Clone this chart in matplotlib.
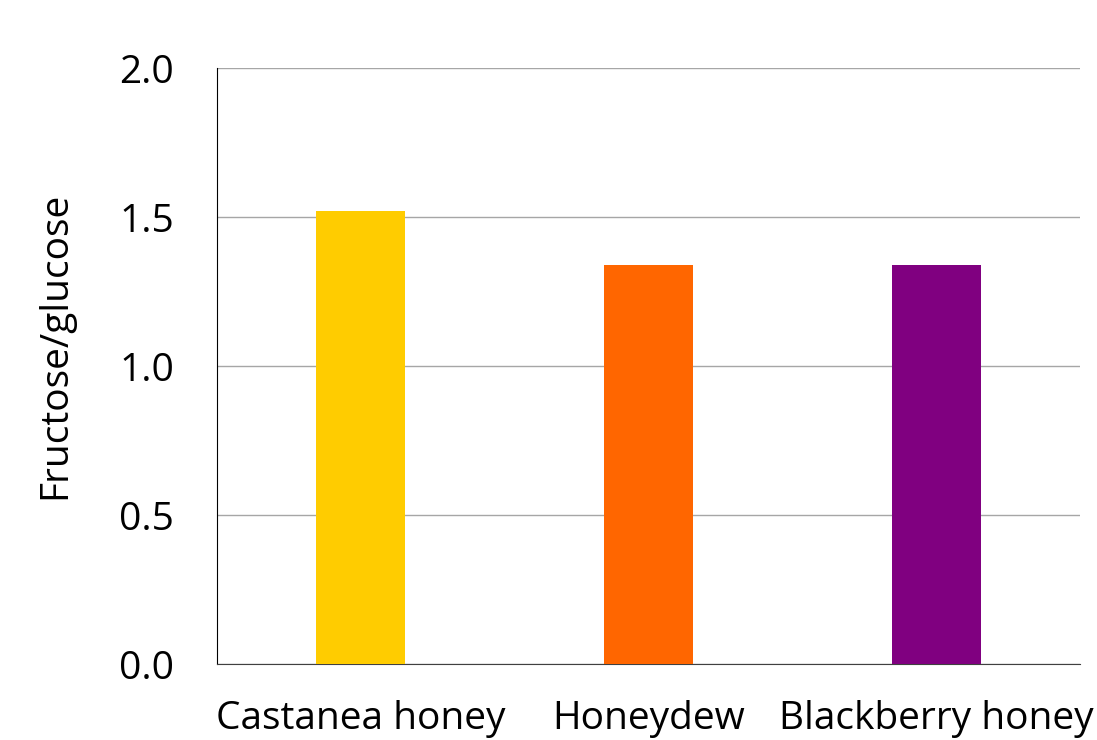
import matplotlib.pyplot as plt

honeys = ['Castanea honey', 'Honeydew', 'Blackberry honey']
ratio = [1.52, 1.34, 1.34]
bar_colors = ['#FFCC00', '#FF6600', '#800080']
yticks = [0.0, 0.5, 1.0, 1.5, 2.0]

plt.rcParams['font.family'] = ['Open Sans', 'DejaVu Sans']

fig = plt.figure(figsize=(10.97, 7.40), dpi=100)
ax = fig.add_axes([0.1978, 0.1027, 0.7867, 0.8054])

x = range(len(honeys))
ax.bar(x, ratio, width=0.31, color=bar_colors, zorder=3)

ax.set_xlim(-0.5, len(honeys) - 0.5)
ax.set_ylim(0, 2.0)
ax.set_yticks(yticks)
ax.set_yticklabels([f'{v:.1f}' for v in yticks], fontsize=28)
ax.set_xticks(list(x))
ax.set_xticklabels(honeys, fontsize=28)
ax.tick_params(axis='both', length=0)
ax.tick_params(axis='y', pad=31)
ax.tick_params(axis='x', pad=26)

ax.yaxis.grid(True, color='#A6A6A6', linewidth=1, zorder=0)
ax.set_axisbelow(True)
for s in ['top', 'right']:
    ax.spines[s].set_visible(False)
ax.spines['left'].set_color('black')
ax.spines['bottom'].set_color('#404040')

ax.set_ylabel('Fructose/glucose', fontsize=28)
ax.yaxis.set_label_coords(-0.165, 0.535)

fig.savefig('out.png', dpi=100)
